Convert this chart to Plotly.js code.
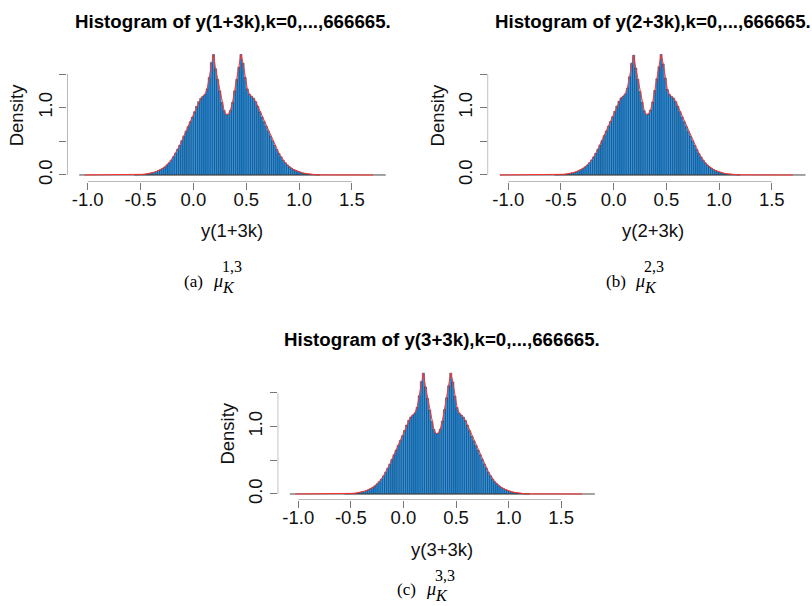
<!DOCTYPE html>
<html>
<head>
<meta charset="utf-8">
<script src="https://cdn.plot.ly/plotly-3.0.1.min.js"></script>
<style>
html,body{margin:0;padding:0;background:#fff;}
#chart{width:812px;height:606px;}
</style>
</head>
<body>
<div id="chart"></div>
<script>
// ---------- data ----------
const binStart = -0.56;      // first histogram break
const binWidth = 0.02;       // histogram bin width
const histRange = [-1.08, 1.82];   // full range of histogram breaks (empty bins drawn as a line)
const densRangeA = [-1.03, 1.70];  // range of the red density curve
const densRangeB = [-1.08, 1.70];
const densRangeC = [-1.03, 1.70];

const densA = [
  0.002,0.003,0.005,0.007,0.010,0.014,0.019,0.025,0.032,0.041,0.052,0.065,0.080,0.100,
  0.120,0.150,0.180,0.220,0.270,0.320,0.380,0.440,0.510,0.580,0.650,0.720,0.790,0.860,
  0.940,1.020,1.090,1.140,1.170,1.200,1.280,1.450,1.670,1.790,1.580,1.420,1.250,1.080,0.960,0.900,
  0.900,0.960,1.080,1.250,1.420,1.600,1.790,1.660,1.450,1.280,1.200,1.170,1.140,1.090,1.020,0.940,
  0.860,0.790,0.720,0.650,0.580,0.510,0.440,0.380,0.320,0.270,0.220,0.180,0.150,0.120,
  0.100,0.080,0.065,0.052,0.041,0.032,0.025,0.019,0.014,0.010,0.007,0.005,0.003,0.002
];
const densB = [
  0.002,0.003,0.005,0.007,0.010,0.014,0.018,0.024,0.031,0.040,0.051,0.064,0.080,0.099,
  0.121,0.148,0.182,0.222,0.268,0.322,0.382,0.445,0.512,0.585,0.655,0.725,0.795,0.865,
  0.945,1.025,1.095,1.145,1.170,1.205,1.290,1.460,1.660,1.780,1.590,1.420,1.240,1.080,0.955,0.900,
  0.905,0.965,1.085,1.255,1.430,1.610,1.790,1.650,1.440,1.270,1.195,1.165,1.140,1.090,1.020,0.940,
  0.860,0.790,0.718,0.648,0.578,0.508,0.440,0.378,0.318,0.268,0.220,0.180,0.148,0.120,
  0.099,0.079,0.064,0.051,0.040,0.031,0.024,0.018,0.014,0.010,0.007,0.005,0.003,0.002
];
const densC = [
  0.002,0.003,0.005,0.007,0.010,0.014,0.019,0.025,0.032,0.041,0.052,0.066,0.081,0.100,
  0.122,0.150,0.182,0.220,0.268,0.320,0.380,0.442,0.512,0.582,0.652,0.722,0.792,0.862,
  0.942,1.022,1.092,1.142,1.172,1.202,1.285,1.455,1.665,1.790,1.585,1.415,1.245,1.075,0.955,0.895,
  0.900,0.960,1.080,1.250,1.425,1.605,1.790,1.660,1.450,1.280,1.200,1.170,1.140,1.088,1.018,0.938,
  0.858,0.788,0.720,0.650,0.580,0.510,0.442,0.380,0.320,0.270,0.220,0.180,0.150,0.121,
  0.100,0.080,0.065,0.052,0.041,0.032,0.025,0.019,0.014,0.010,0.007,0.005,0.003,0.002
];

const xTickVals = [-1.0, -0.5, 0.0, 0.5, 1.0, 1.5];
const xTickText = ["-1.0", "-0.5", "0.0", "0.5", "1.0", "1.5"];
const yTickVals = [0.0, 0.5, 1.0, 1.5];
const yTickText = ["0.0", "", "1.0", ""];

const titles = ["Histogram of y(1+3k),k=0,...,666665.",
                "Histogram of y(2+3k),k=0,...,666665.",
                "Histogram of y(3+3k),k=0,...,666665."];
const xLabels = ["y(1+3k)", "y(2+3k)", "y(3+3k)"];
const yLabel = "Density";
const capLetters = ["(a)", "(b)", "(c)"];
const capSup = ["1,3", "2,3", "3,3"];

// ---------- layout geometry (pixels) ----------
const W = 812, H = 606;
const fx = p => p / W;
const fy = p => 1 - p / H;

const panels = [
  {dens: densA, dr: densRangeA, xPx: [67, 398], yPx: [49.7, 181.5], xr: [-1.196, 1.936], yr: [-0.097, 1.862],
   title: [232.5, 21], xlab: [232, 230], ylab: [16.7, 115.6], cap: [183, 281, 266, 287]},
  {dens: densB, dr: densRangeB, xPx: [487.6, 812], yPx: [49.7, 181.5], xr: [-1.196, 1.882], yr: [-0.097, 1.862],
   title: [652.6, 21], xlab: [653, 230], ylab: [437.8, 115.6], cap: [605, 281, 266, 287]},
  {dens: densC, dr: densRangeC, xPx: [277.7, 607.0], yPx: [368.3, 500], xr: [-1.196, 1.936], yr: [-0.089, 1.862],
   title: [442.4, 339.5], xlab: [442, 549], ylab: [227.3, 433.3], cap: [396, 589, 575, 595]}
];

const centers = [];
for (let i = 0; i < densA.length; i++) centers.push(+(binStart + binWidth * (i + 0.5)).toFixed(4));

const tickFont = {family: "Liberation Sans, Arial, sans-serif", size: 18.5, color: "#111"};
const traces = [];
const layout = {
  width: W, height: H,
  margin: {l: 0, r: 0, t: 0, b: 0},
  paper_bgcolor: "#fff", plot_bgcolor: "rgba(0,0,0,0)",
  showlegend: false, bargap: 0,
  annotations: [], shapes: []
};

panels.forEach((p, i) => {
  const n = i === 0 ? "" : String(i + 1);
  const xa = "x" + n, ya = "y" + n;
  // empty bins: zero-height bars appear as a dark baseline
  traces.push({type: "scatter", mode: "lines", x: histRange, y: [0, 0], xaxis: xa, yaxis: ya,
    line: {color: "#444", width: 1}, hoverinfo: "skip", cliponaxis: false});
  traces.push({type: "bar", x: centers, y: p.dens, width: binWidth, xaxis: xa, yaxis: ya,
    marker: {color: "#2196f3", line: {color: "#1a1a1a", width: 0.45}}, hoverinfo: "x+y"});
  traces.push({type: "scatter", mode: "lines",
    x: [p.dr[0]].concat(centers, [p.dr[1]]), y: [0].concat(p.dens, [0]),
    xaxis: xa, yaxis: ya, line: {color: "#ff3030", width: 1}, hoverinfo: "skip"});

  layout["xaxis" + n] = {
    domain: [fx(p.xPx[0]), fx(p.xPx[1])], range: p.xr, anchor: ya,
    showgrid: false, zeroline: false, showline: false,
    tickmode: "array", tickvals: xTickVals, ticktext: xTickText,
    ticks: "outside", ticklen: 7, tickwidth: 1, tickcolor: "#777",
    tickfont: tickFont, ticklabelstandoff: -6, fixedrange: true
  };
  layout["yaxis" + n] = {
    domain: [fy(p.yPx[1]), fy(p.yPx[0])], range: p.yr, anchor: xa,
    showgrid: false, zeroline: false, showline: false,
    tickmode: "array", tickvals: yTickVals, ticktext: yTickText,
    ticks: "outside", ticklen: 7, tickwidth: 1, tickcolor: "#777",
    tickfont: tickFont, tickangle: -90, ticklabelstandoff: 0, fixedrange: true
  };
  // axis lines spanning first to last tick, as R draws them
  layout.shapes.push({type: "line", xref: xa, yref: ya,
    x0: xTickVals[0], x1: xTickVals[xTickVals.length - 1], y0: p.yr[0], y1: p.yr[0],
    line: {color: "#777", width: 1}});
  layout.shapes.push({type: "line", xref: xa, yref: ya,
    x0: p.xr[0], x1: p.xr[0], y0: yTickVals[0], y1: yTickVals[yTickVals.length - 1],
    line: {color: "#777", width: 1}});

  const A = layout.annotations;
  A.push({text: titles[i], xref: "paper", yref: "paper", x: fx(p.title[0]), y: fy(p.title[1]),
    xanchor: "center", yanchor: "middle", showarrow: false,
    font: {family: "Liberation Sans, Arial, sans-serif", size: 18.7, color: "#000", weight: "bold"}});
  A.push({text: xLabels[i], xref: "paper", yref: "paper", x: fx(p.xlab[0]), y: fy(p.xlab[1]),
    xanchor: "center", yanchor: "middle", showarrow: false, font: tickFont});
  A.push({text: yLabel, xref: "paper", yref: "paper", x: fx(p.ylab[0]), y: fy(p.ylab[1]),
    xanchor: "center", yanchor: "middle", showarrow: false, textangle: -90, font: tickFont});
  // captions (LaTeX-like)
  const serif = "Liberation Serif, Times New Roman, serif";
  const cx = p.cap[0], cy = p.cap[1], sy = p.cap[2], ky = p.cap[3];
  A.push({text: capLetters[i], xref: "paper", yref: "paper", x: fx(cx), y: fy(cy),
    xanchor: "left", yanchor: "middle", showarrow: false, borderpad: 0,
    font: {family: serif, size: 17, color: "#000"}});
  A.push({text: "<i>μ</i>", xref: "paper", yref: "paper", x: fx(cx + 29), y: fy(cy),
    xanchor: "left", yanchor: "middle", showarrow: false, borderpad: 0,
    font: {family: serif, size: 18, color: "#000"}});
  A.push({text: capSup[i], xref: "paper", yref: "paper", x: fx(cx + 38), y: fy(sy),
    xanchor: "left", yanchor: "middle", showarrow: false, borderpad: 0,
    font: {family: serif, size: 16, color: "#000"}});
  A.push({text: "<i>K</i>", xref: "paper", yref: "paper", x: fx(cx + 38), y: fy(ky),
    xanchor: "left", yanchor: "middle", showarrow: false, borderpad: 0,
    font: {family: serif, size: 16, color: "#000"}});
});

Plotly.newPlot("chart", traces, layout, {displayModeBar: false, staticPlot: true});
</script>
</body>
</html>
